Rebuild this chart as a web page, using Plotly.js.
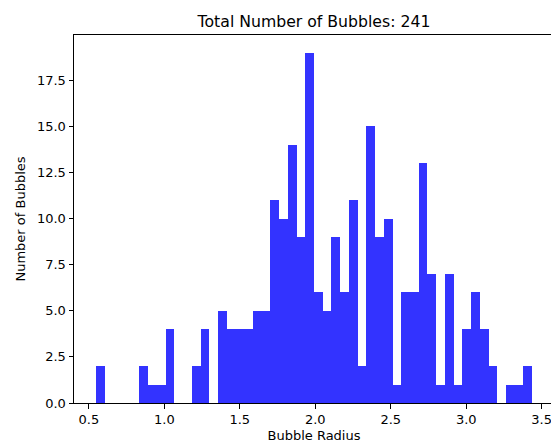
<!DOCTYPE html>
<html>
<head>
<meta charset="utf-8">
<script src="https://cdn.plot.ly/plotly-3.0.1.min.js"></script>
<style>
  html, body { margin: 0; padding: 0; overflow: hidden; background: #fff; }
  #chart { width: 554px; height: 448px; }
</style>
</head>
<body>
<div id="chart"></div>
<script>
// Histogram of bubble radii: 50 equal-width bins between the smallest and largest radius
const radiusMin = 0.546;
const radiusMax = 3.437;
const binCounts = [
  2, 0, 0, 0, 0, 2, 1, 1, 4, 0,
  0, 2, 4, 0, 5, 4, 4, 4, 5, 5,
  11, 10, 14, 9, 19, 6, 5, 9, 6, 11,
  2, 15, 9, 10, 1, 6, 6, 13, 7, 1,
  7, 1, 4, 6, 4, 2, 0, 1, 1, 2
];
const xTicks = [0.5, 1.0, 1.5, 2.0, 2.5, 3.0, 3.5];
const yTicks = [0, 2.5, 5, 7.5, 10, 12.5, 15, 17.5];

const total = binCounts.reduce((a, b) => a + b, 0);
const binWidth = (radiusMax - radiusMin) / binCounts.length;
const centers = binCounts.map((_, i) => radiusMin + binWidth * (i + 0.5));

const pad = 0.05 * (radiusMax - radiusMin);
const yMax = Math.max(...binCounts) * 1.05;

const font = 'DejaVu Sans, sans-serif';

Plotly.newPlot('chart', [{
  type: 'bar',
  x: centers,
  y: binCounts,
  width: binWidth,
  marker: { color: 'rgba(0,0,255,0.8)', line: { width: 0 } },
  hoverinfo: 'x+y'
}], {
  width: 554,
  height: 448,
  margin: { l: 74, r: 0, t: 35, b: 45 },
  paper_bgcolor: '#fff',
  plot_bgcolor: '#fff',
  bargap: 0,
  showlegend: false,
  font: { family: font, size: 13, color: '#000' },
  title: {
    text: 'Total Number of Bubbles: ' + total,
    font: { family: font, size: 15.7, color: '#000' },
    x: 0.5, xref: 'paper', xanchor: 'center',
    y: 1, yref: 'paper', yanchor: 'bottom',
    pad: { b: 8 }
  },
  xaxis: {
    range: [radiusMin - pad, radiusMax + pad],
    tickvals: xTicks,
    ticktext: xTicks.map(v => v.toFixed(1)),
    ticks: 'outside', ticklen: 4.5, tickwidth: 1, tickcolor: '#000',
    showline: true, linecolor: '#000', linewidth: 1, mirror: true,
    showgrid: false, zeroline: false,
    tickfont: { family: font, size: 13, color: '#000' },
    title: { text: 'Bubble Radius', font: { family: font, size: 13, color: '#000' }, standoff: 4 },
    automargin: false
  },
  yaxis: {
    range: [0, yMax],
    tickvals: yTicks,
    ticktext: yTicks.map(v => v.toFixed(1)),
    ticks: 'outside', ticklen: 4.5, tickwidth: 1, tickcolor: '#000',
    showline: true, linecolor: '#000', linewidth: 1, mirror: true,
    showgrid: false, zeroline: false,
    tickfont: { family: font, size: 13, color: '#000' },
    title: { text: 'Number of Bubbles', font: { family: font, size: 13, color: '#000' }, standoff: 8 },
    automargin: false
  }
}, { displayModeBar: false, staticPlot: true });
</script>
</body>
</html>
